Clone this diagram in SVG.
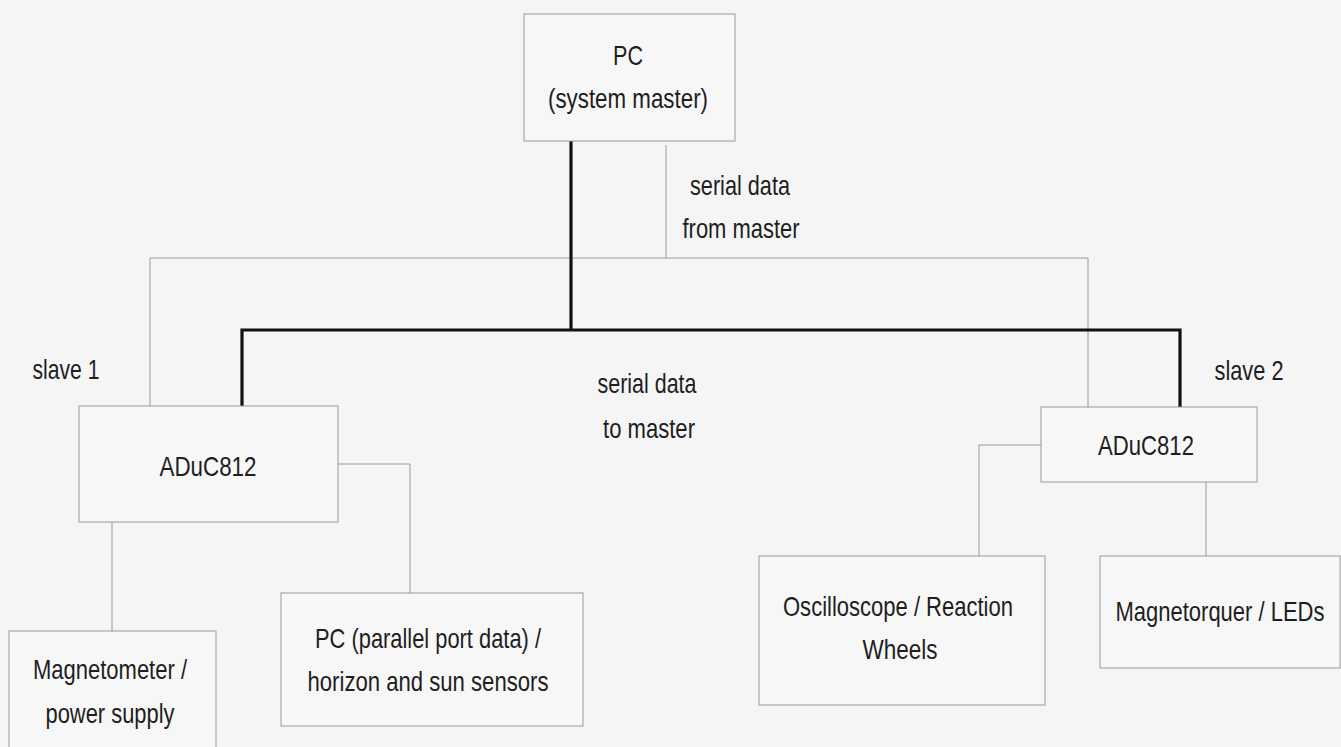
<svg xmlns="http://www.w3.org/2000/svg" width="1341" height="747" viewBox="0 0 1341 747">
<style>
.bg{fill:#f5f5f5}
.box{fill:#f7f7f7;stroke:#9a9a9a;stroke-width:1}
.thin{fill:none;stroke:#9a9a9a;stroke-width:1}
.thick{fill:none;stroke:#111;stroke-width:3.2;stroke-linejoin:miter}
text{font-family:"Liberation Sans",Arial,sans-serif;font-size:27.5px;fill:#1e1e1e;text-anchor:middle}
</style>
<rect class="bg" x="0" y="0" width="1341" height="747"/>
<g id="connectors">
<polyline class="thin" points="666,145 666,258"/>
<polyline class="thin" points="150,406 150,258 1088,258 1088,407"/>
<polyline class="thick" points="571,141 571,330"/>
<polyline class="thick" points="242,406 242,330 1180,330 1180,407"/>
<polyline class="thin" points="112,522 112,631"/>
<polyline class="thin" points="338,464 410,464 410,593"/>
<polyline class="thin" points="1041,445 979,445 979,556"/>
<polyline class="thin" points="1206,482 1206,556"/>
</g>
<g id="pc-master">
<rect class="box" x="524" y="14" width="211" height="127"/>
<text x="628" y="65" textLength="30" lengthAdjust="spacingAndGlyphs">PC</text>
<text x="628" y="108" textLength="160" lengthAdjust="spacingAndGlyphs">(system master)</text>
</g>
<g id="label-from-master">
<text x="740" y="195" textLength="100" lengthAdjust="spacingAndGlyphs">serial data</text>
<text x="741" y="238" textLength="117" lengthAdjust="spacingAndGlyphs">from master</text>
</g>
<g id="label-to-master">
<text x="647" y="393" textLength="99" lengthAdjust="spacingAndGlyphs">serial data</text>
<text x="649" y="438" textLength="92" lengthAdjust="spacingAndGlyphs">to master</text>
</g>
<g id="label-slave1">
<text x="66" y="379" textLength="67" lengthAdjust="spacingAndGlyphs">slave 1</text>
</g>
<g id="label-slave2">
<text x="1249" y="380" textLength="69" lengthAdjust="spacingAndGlyphs">slave 2</text>
</g>
<g id="slave1">
<rect class="box" x="79" y="406" width="259" height="116"/>
<text x="208" y="476" textLength="97" lengthAdjust="spacingAndGlyphs">ADuC812</text>
</g>
<g id="slave2">
<rect class="box" x="1041" y="407" width="216" height="75"/>
<text x="1146" y="455" textLength="96" lengthAdjust="spacingAndGlyphs">ADuC812</text>
</g>
<g id="magnetometer">
<rect class="box" x="9" y="631" width="207" height="125"/>
<text x="110" y="679" textLength="154" lengthAdjust="spacingAndGlyphs">Magnetometer /</text>
<text x="110" y="723" textLength="129" lengthAdjust="spacingAndGlyphs">power supply</text>
</g>
<g id="pc-parallel">
<rect class="box" x="281" y="593" width="302" height="133"/>
<text x="428" y="648" textLength="226" lengthAdjust="spacingAndGlyphs">PC (parallel port data) /</text>
<text x="428" y="691" textLength="241" lengthAdjust="spacingAndGlyphs">horizon and sun sensors</text>
</g>
<g id="oscilloscope">
<rect class="box" x="759" y="556" width="286" height="149"/>
<text x="898" y="616" textLength="230" lengthAdjust="spacingAndGlyphs">Oscilloscope / Reaction</text>
<text x="900" y="659" textLength="75" lengthAdjust="spacingAndGlyphs">Wheels</text>
</g>
<g id="magnetorquer">
<rect class="box" x="1100" y="556" width="240" height="112"/>
<text x="1220" y="621" textLength="209" lengthAdjust="spacingAndGlyphs">Magnetorquer / LEDs</text>
</g>
</svg>
